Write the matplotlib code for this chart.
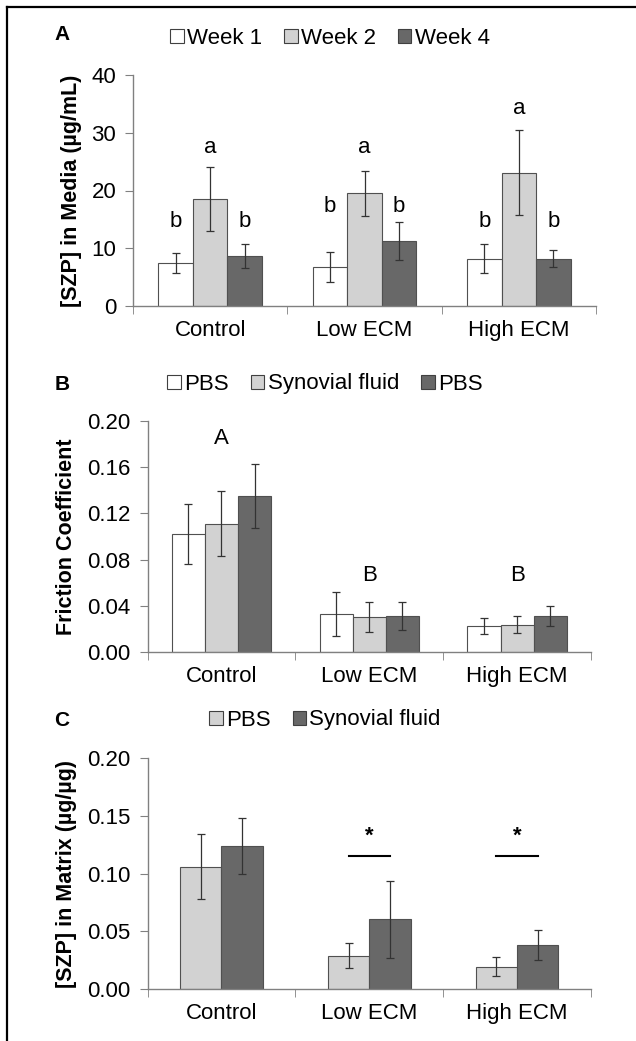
import matplotlib
matplotlib.use('Agg')
import matplotlib.pyplot as plt
from matplotlib.patches import Patch
from matplotlib.lines import Line2D
import numpy as np

plt.rcParams['font.family'] = ['Liberation Sans', 'DejaVu Sans']

groups = ['Control', 'Low ECM', 'High ECM']

# panel A - SZP in media
weeks = ['Week 1', 'Week 2', 'Week 4']
media_mean = [[7.4, 6.8, 8.2],
              [18.5, 19.5, 23.1],
              [8.6, 11.2, 8.2]]
media_err = [[1.7, 2.6, 2.45],
             [5.5, 3.9, 7.4],
             [2.1, 3.3, 1.5]]
media_letters = [['b', 'b', 'b'], ['a', 'a', 'a'], ['b', 'b', 'b']]
media_letter_y = [[14.6, 17.2, 14.6], [27.5, 27.5, 34.2], [14.6, 17.2, 14.6]]

# panel B - friction
fric_names = ['PBS', 'Synovial fluid', 'PBS']
fric_mean = [[0.1025, 0.0327, 0.0225],
             [0.111, 0.0303, 0.0237],
             [0.135, 0.031, 0.0312]]
fric_err = [[0.026, 0.019, 0.007],
            [0.028, 0.0126, 0.0073],
            [0.028, 0.012, 0.009]]
fric_letters = ['A', 'B', 'B']
fric_letter_y = [0.185, 0.066, 0.066]

# panel C - SZP in matrix
mat_names = ['PBS', 'Synovial fluid']
mat_mean = [[0.1058, 0.0288, 0.0193],
            [0.1239, 0.0602, 0.0383]]
mat_err = [[0.028, 0.011, 0.0083],
           [0.024, 0.033, 0.013]]
sig_groups = [1, 2]
sig_line_y = 0.115
sig_star_y = 0.1326

white = '#ffffff'
light = '#d2d2d2'
dark = '#686868'
edge = '#505050'
axc = '#808080'
fs = 16

W, H = 636, 1041
fig = plt.figure(figsize=(W/100, H/100), dpi=100)

def box(l, r, t, b):
    return [l/W, 1-b/H, (r-l)/W, (b-t)/H]

axA = fig.add_axes(box(133, 596, 75, 306))
axB = fig.add_axes(box(147.5, 591, 421, 652))
axC = fig.add_axes(box(147.5, 591, 758, 989))

x = np.arange(len(groups))

def style(ax):
    ax.spines['top'].set_visible(False)
    ax.spines['right'].set_visible(False)
    for s in ['left', 'bottom']:
        ax.spines[s].set_color(axc)
        ax.spines[s].set_linewidth(1)
    ax.set_xlim(-0.5, 2.5)
    ax.set_xticks(x)
    ax.set_xticklabels(groups, fontsize=fs)
    ax.set_xticks([-0.5, 0.5, 1.5, 2.5], minor=True)
    ax.tick_params(axis='x', which='major', length=0, pad=10)
    ax.tick_params(axis='x', which='minor', length=6, color=axc, direction='out')
    ax.tick_params(axis='y', length=6, color=axc, labelsize=fs, pad=6)

# ---- A
w = 0.224
cols3 = [white, light, dark]
for i in range(3):
    xs = x + (i-1)*w
    axA.bar(xs, media_mean[i], w, color=cols3[i], edgecolor=edge, linewidth=0.8, zorder=2)
    axA.errorbar(xs, media_mean[i], yerr=media_err[i], fmt='none', ecolor='#333333',
                 elinewidth=0.9, capsize=3, capthick=0.9, zorder=3)
    for j in range(3):
        axA.text(xs[j], media_letter_y[i][j], media_letters[i][j], ha='center', va='center', fontsize=fs)
axA.set_ylim(0, 40)
axA.set_yticks([0, 10, 20, 30, 40])
style(axA)
axA.set_ylabel('[SZP] in Media (µg/mL)', fontsize=15.5, fontweight='bold')
axA.yaxis.set_label_coords(-0.11, 0.5)

# ---- B
for i in range(3):
    xs = x + (i-1)*w
    axB.bar(xs, fric_mean[i], w, color=cols3[i], edgecolor=edge, linewidth=0.8, zorder=2)
    axB.errorbar(xs, fric_mean[i], yerr=fric_err[i], fmt='none', ecolor='#333333',
                 elinewidth=0.9, capsize=3, capthick=0.9, zorder=3)
for j in range(3):
    axB.text(x[j], fric_letter_y[j], fric_letters[j], ha='center', va='center', fontsize=fs)
axB.set_ylim(0, 0.2)
axB.set_yticks(np.arange(0, 0.201, 0.04))
axB.set_yticklabels(['%.2f' % v for v in np.arange(0, 0.201, 0.04)])
style(axB)
axB.set_ylabel('Friction Coefficient', fontsize=15.5, fontweight='bold')
axB.yaxis.set_label_coords(-0.16, 0.5)

# ---- C
w2 = 0.28
cols2 = [light, dark]
for i in range(2):
    xs = x + (i-0.5)*w2
    axC.bar(xs, mat_mean[i], w2, color=cols2[i], edgecolor=edge, linewidth=0.8, zorder=2)
    axC.errorbar(xs, mat_mean[i], yerr=mat_err[i], fmt='none', ecolor='#333333',
                 elinewidth=0.9, capsize=3, capthick=0.9, zorder=3)
for g in sig_groups:
    axC.plot([g-w2/2, g+w2/2], [sig_line_y, sig_line_y], color='black', lw=1.5)
    axC.text(g, sig_star_y, '*', ha='center', va='center', fontsize=fs, fontweight='bold')
axC.set_ylim(0, 0.2)
axC.set_yticks(np.arange(0, 0.201, 0.05))
axC.set_yticklabels(['%.2f' % v for v in np.arange(0, 0.201, 0.05)])
style(axC)
axC.set_ylabel('[SZP] in Matrix (µg/µg)', fontsize=15.5, fontweight='bold')
axC.yaxis.set_label_coords(-0.16, 0.5)

# legends
def leg(names, cols, cx, cy):
    hs = [Patch(facecolor=c, edgecolor='#404040', linewidth=0.8) for c in cols]
    fig.legend(hs, names, loc='center', bbox_to_anchor=(cx/W, 1-cy/H), ncol=len(names),
               frameon=False, fontsize=fs, handlelength=0.6, handleheight=0.6,
               handletextpad=0.15, columnspacing=1.0, borderpad=0)

leg(weeks, cols3, 330, 38)
leg(fric_names, cols3, 325, 384)
leg(mat_names, cols2, 325, 720)

# panel letters
for lab, py in [('A', 35), ('B', 384), ('C', 720)]:
    fig.text(62/W, 1-py/H, lab, ha='center', va='center', fontsize=15, fontweight='bold')

# frame
fig.add_artist(Line2D([7/W, 7/W], [0, 1-7/H], color='black', lw=1.6))
fig.add_artist(Line2D([7/W, 1], [1-7/H, 1-7/H], color='black', lw=1.6))

plt.savefig('out.png', dpi=100)
